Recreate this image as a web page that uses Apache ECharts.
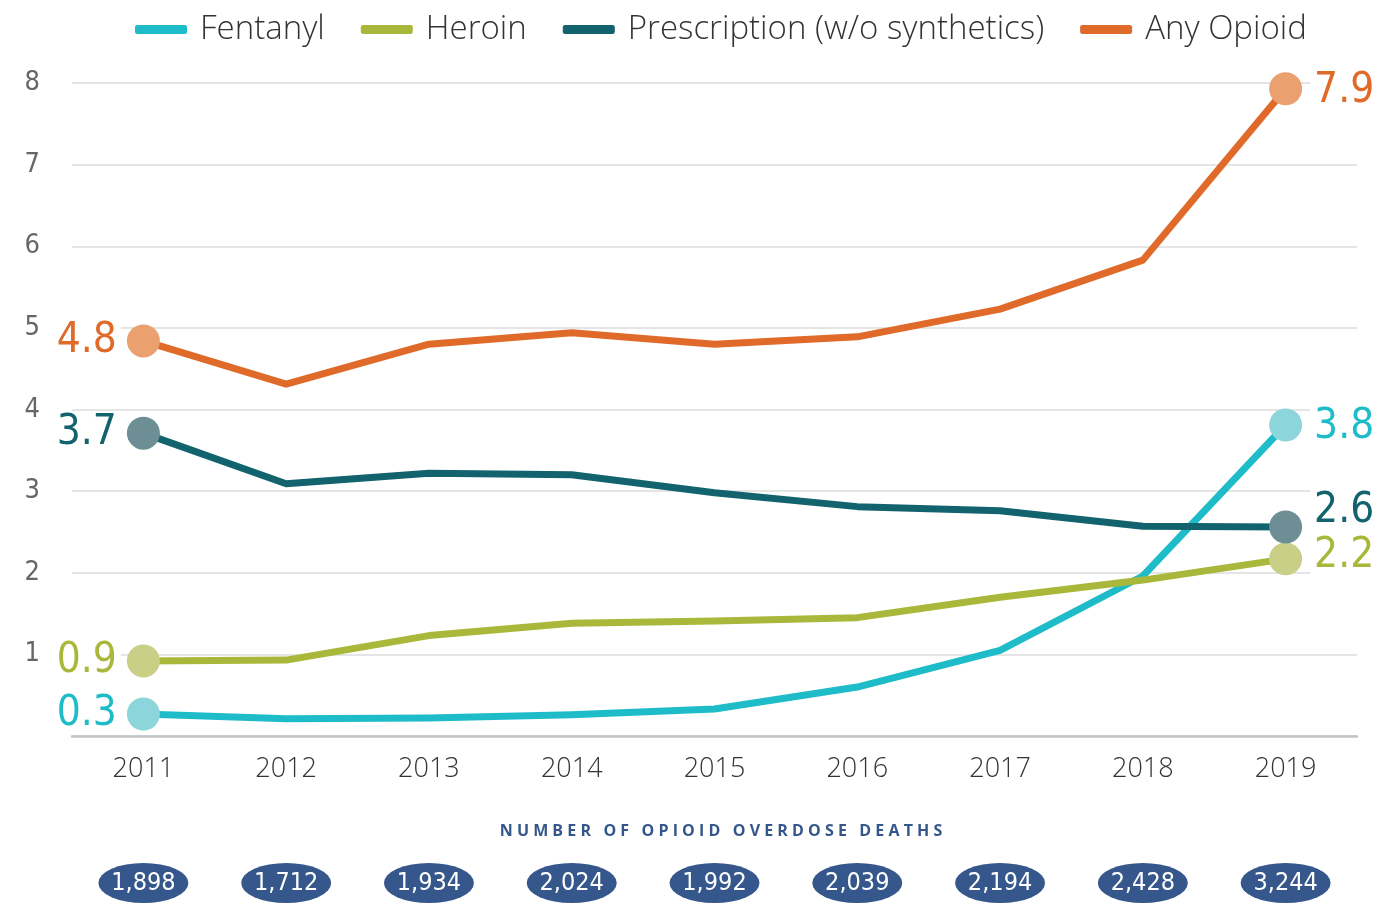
<!DOCTYPE html>
<html>
<head>
<meta charset="utf-8">
<script src="https://cdn.jsdelivr.net/npm/echarts@6/dist/echarts.min.js"></script>
<style>
  html, body { margin: 0; padding: 0; background: #fff; }
  #main { width: 1384px; height: 903px; }
</style>
</head>
<body>
<div id="main"></div>
<script type="text/javascript">
var years = ['2011', '2012', '2013', '2014', '2015', '2016', '2017', '2018', '2019'];
var fentanyl = [0.27, 0.21, 0.22, 0.26, 0.33, 0.60, 1.05, 1.96, 3.81];
var heroin = [0.92, 0.93, 1.23, 1.38, 1.41, 1.45, 1.70, 1.91, 2.17];
var prescription = [3.71, 3.09, 3.22, 3.20, 2.98, 2.81, 2.76, 2.57, 2.56];
var anyOpioid = [4.84, 4.31, 4.80, 4.94, 4.80, 4.89, 5.23, 5.83, 7.93];
var deaths = [1898, 1712, 1934, 2024, 1992, 2039, 2194, 2428, 3244];
var yTicks = [0, 1, 2, 3, 4, 5, 6, 7, 8];

var narrow = "'Liberation Sans Narrow', 'DejaVu Sans Condensed', sans-serif";

// first and last point get a marker and a big value label
function endPoints(values, lineColor, dotColor, startText, endText, endOffset) {
    return values.map(function (v, i) {
        var item = { value: v };
        if (i === 0 || i === values.length - 1) {
            item.symbol = 'circle';
            item.symbolSize = 33;
            item.itemStyle = { color: dotColor, opacity: 1 };
            item.label = {
                show: true,
                position: i === 0 ? 'left' : 'right',
                distance: i === 0 ? 6 : 8,
                formatter: i === 0 ? startText : endText,
                color: lineColor,
                fontFamily: narrow,
                fontSize: 42,
                backgroundColor: '#fff',
                padding: [0, 4, 0, 4],
                offset: i === 0 ? [0, 0] : endOffset
            };
        }
        return item;
    });
}

function lineSeries(name, values, lineColor, dotColor, startText, endText, endOffset) {
    return {
        type: 'line',
        name: name,
        xAxisIndex: 0,
        yAxisIndex: 0,
        symbol: 'none',
        showAllSymbol: true,
        color: lineColor,
        lineStyle: { width: 7, color: lineColor, join: 'round' },
        data: endPoints(values, lineColor, dotColor, startText, endText, endOffset),
        z: 3
    };
}

var spaced = 'NUMBER OF OPIOID OVERDOSE DEATHS'.split('').join(' ');

var chart = echarts.init(document.getElementById('main'));
var option = {
    animation: false,
    title: {
        text: spaced,
        left: 716,
        top: 818,
        textAlign: 'center',
        textStyle: { color: '#34578b', fontSize: 16, fontWeight: 'bold', fontFamily: "'Open Sans', sans-serif" }
    },
    legend: {
        top: 8,
        left: 130,
        itemWidth: 52,
        itemHeight: 9,
        itemGap: 36,
        icon: 'roundRect',
        textStyle: { fontSize: 33, color: '#333', fontWeight: 300, fontFamily: "'Open Sans', sans-serif", padding: [0, 0, 0, 8] },
        data: ['Fentanyl', 'Heroin', 'Prescription (w/o synthetics)', 'Any Opioid']
    },
    grid: [
        { left: 72, right: 27, top: 83, bottom: 167 },
        { left: 72, right: 27, top: 863, height: 40 }
    ],
    xAxis: [
        {
            type: 'category',
            gridIndex: 0,
            data: years,
            boundaryGap: true,
            axisLine: { lineStyle: { color: '#c4c4c4', width: 2.5 } },
            axisTick: { alignWithLabel: true, inside: true, length: 18, lineStyle: { color: '#c4c4c4', width: 2 } },
            axisLabel: { color: '#333', fontSize: 27, margin: 20, fontFamily: "'Open Sans', sans-serif", fontWeight: 300 }
        },
        {
            type: 'category',
            gridIndex: 1,
            data: years,
            boundaryGap: true,
            show: false
        }
    ],
    yAxis: [
        {
            type: 'value',
            gridIndex: 0,
            min: yTicks[0],
            max: yTicks[yTicks.length - 1],
            interval: 1,
            axisLine: { show: false },
            axisTick: { show: false },
            axisLabel: {
                color: '#666', fontSize: 27, margin: 32, fontFamily: narrow,
                formatter: function (v) { return v === 0 ? '' : String(v); }
            },
            splitLine: { lineStyle: { color: '#dcdcdc', width: 1.5 } }
        },
        {
            type: 'value',
            gridIndex: 1,
            min: 0,
            max: 1,
            show: false
        }
    ],
    series: [
        lineSeries('Fentanyl', fentanyl, '#1ebcc8', '#8cd5db', '0.3', '3.8', [0, 2]),
        lineSeries('Heroin', heroin, '#a9b83a', '#c9cf87', '0.9', '2.2', [0, -3]),
        lineSeries('Prescription (w/o synthetics)', prescription, '#12636d', '#6e8e96', '3.7', '2.6', [0, -16]),
        lineSeries('Any Opioid', anyOpioid, '#e06a29', '#eaa16f', '4.8', '7.9', [0, 2]),
        {
            type: 'scatter',
            xAxisIndex: 1,
            yAxisIndex: 1,
            symbol: 'circle',
            symbolSize: [90, 40],
            itemStyle: { color: '#35578b', opacity: 1 },
            label: {
                show: true,
                position: 'inside',
                color: '#fff',
                fontSize: 25,
                fontFamily: narrow,
                formatter: function (p) { return deaths[p.dataIndex].toLocaleString('en-US'); }
            },
            data: deaths.map(function () { return 0.5; }),
            silent: true
        }
    ]
};
chart.setOption(option);
</script>
</body>
</html>
